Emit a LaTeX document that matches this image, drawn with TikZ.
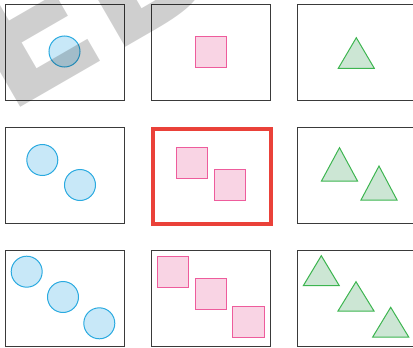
\documentclass[tikz,border=0pt]{standalone}
\usepackage{fontspec}
\newfontfamily\wmfont{DejaVu Sans}
\usetikzlibrary{calc}
\definecolor{boxline}{HTML}{3A3A3A}
\definecolor{cfill}{HTML}{C8E8F8}
\definecolor{cline}{HTML}{2AAAE0}
\definecolor{sfill}{HTML}{F9D4E4}
\definecolor{sline}{HTML}{EE5C9C}
\definecolor{tfill}{HTML}{CCE6D4}
\definecolor{tline}{HTML}{3DB550}
\definecolor{redline}{HTML}{EA4139}
\tikzset{
  panel/.style={draw=boxline, line width=1.3pt},
  hipanel/.style={draw=redline, line width=4pt},
  circ/.style={circle, draw=cline, fill=cfill, line width=1pt, minimum size=31pt, inner sep=0pt},
  sq/.style={draw=sline, fill=sfill, line width=1pt},
  tri/.style={draw=tline, fill=tfill, line width=1pt, line join=miter},
  wmark/.style={text=black, opacity=0.19, font=\wmfont\bfseries\fontsize{178}{178}\selectfont, inner sep=0pt}
}
\newcommand{\tri}[3]{\draw[tri] (#1-18,#3) -- (#1,#2) -- (#1+18,#3) -- cycle;}
\begin{document}
\begin{tikzpicture}[x=1pt,y=-1pt]
\useasboundingbox (0,0) rectangle (413,348);
\clip (0,0) rectangle (413,348);
% row 1
\node[panel, minimum width=119pt, minimum height=96pt, anchor=north west, inner sep=0pt] (p11) at (5,4) {};
\node[panel, minimum width=119pt, minimum height=96pt, anchor=north west, inner sep=0pt] (p12) at (151,4) {};
\node[panel, minimum width=120pt, minimum height=96pt, anchor=north west, inner sep=0pt] (p13) at (297,4) {};
% row 2
\node[panel, minimum width=119pt, minimum height=96pt, anchor=north west, inner sep=0pt] (p21) at (5,126.5) {};
\node[hipanel, minimum width=118pt, minimum height=95.5pt, anchor=north west, inner sep=0pt] (p22) at (151,126.5) {};
\node[panel, minimum width=120pt, minimum height=96pt, anchor=north west, inner sep=0pt] (p23) at (297,126.5) {};
% row 3
\node[panel, minimum width=119pt, minimum height=96pt, anchor=north west, inner sep=0pt] (p31) at (5,250) {};
\node[panel, minimum width=119pt, minimum height=96pt, anchor=north west, inner sep=0pt] (p32) at (151,250) {};
\node[panel, minimum width=120pt, minimum height=96pt, anchor=north west, inner sep=0pt] (p33) at (297,250) {};
% circles
\node[circ] (c11) at (64.5,51.5) {};
\node[circ] (c21) at (42.3,160) {};
\node[circ] (c22) at (80,185) {};
\node[circ] (c31) at (26.7,271.7) {};
\node[circ] (c32) at (63,297) {};
\node[circ] (c33) at (99.3,323.3) {};
% squares
\draw[sq] (195,36) rectangle (226.3,67);
\draw[sq] (176.7,147) rectangle (207.7,178.3);
\draw[sq] (214,169.7) rectangle (245.5,200.7);
\draw[sq] (157.3,256) rectangle (188.7,287);
\draw[sq] (195,278.7) rectangle (226.3,309.7);
\draw[sq] (232.7,306.3) rectangle (264.3,337.3);
% triangles
\tri{356.3}{37.7}{68.3}
\tri{339.5}{147.7}{181}
\tri{379}{166}{200}
\tri{321.3}{255.7}{285.7}
\tri{356}{281.7}{311}
\tri{390.7}{307.3}{337}
% watermark
\node[wmark, rotate=30, anchor=base west] (wm) at (6,116) {ED};
\end{tikzpicture}
\end{document}
